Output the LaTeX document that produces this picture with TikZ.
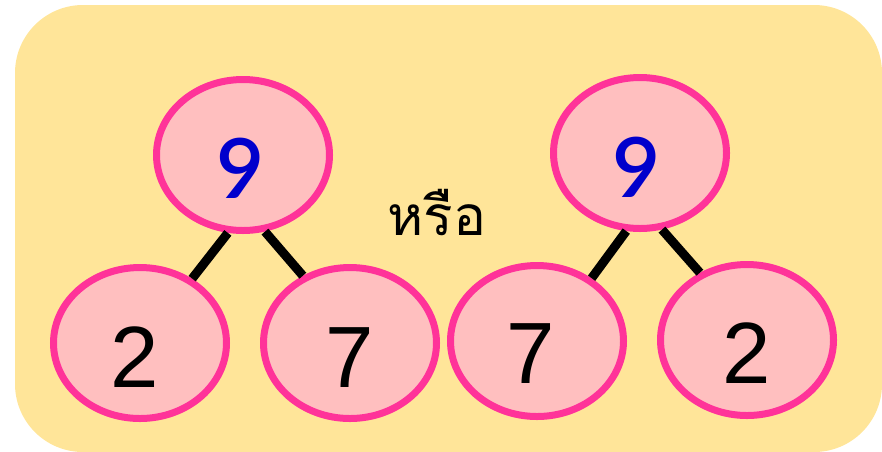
\documentclass[tikz,border=0pt]{standalone}
\usepackage{fontspec}
\usetikzlibrary{shapes.geometric}
\setmainfont{Liberation Sans}
\newfontfamily\thaifont[Script=Thai]{Loma}
\newfontfamily\ninefont{Lato Semibold}
\definecolor{bgyellow}{HTML}{FFE599}
\definecolor{ballfill}{HTML}{FFBFBF}
\definecolor{ballline}{HTML}{FF3399}
\definecolor{ninecol}{HTML}{0000CC}
\begin{document}
\begin{tikzpicture}[x=1pt,y=-1pt,
  ball/.style={ellipse, draw=ballline, fill=ballfill, line width=7pt,
    minimum width=173pt, minimum height=151pt, inner sep=0pt},
  link/.style={line width=9pt, black},
  digit/.style={font=\fontsize{87}{90}\selectfont, text=black, anchor=base, inner sep=0pt},
  thnine/.style={font=\ninefont\fontsize{83}{90}\selectfont, text=ninecol, anchor=base, inner sep=0pt}]
\useasboundingbox (0,0) rectangle (882,451);
\fill[bgyellow, rounded corners=68pt] (15,5) rectangle (882,452);
% links
\node[ball] (t1) at (243,155) {};
\node[ball] (a1) at (140,343) {};
\node[ball] (b1) at (350,343) {};
\node[ball] (t2) at (640,153) {};
\node[ball] (a2) at (537,341) {};
\node[ball] (b2) at (747,340) {};
\draw[link] (t1.-101) -- (a1.51);
\draw[link] (t1.-74.5) -- (b1.125);
\draw[link] (t2.-100.6) -- (a2.49.3);
\draw[link] (t2.-74.5) -- (b2.125.8);
% labels
\node[thnine] (n1) at (241,198) {9};
\node[digit] (d1) at (135,387) {2};
\node[digit] (d2) at (350,387) {7};
\node[thnine] (n2) at (637,197) {9};
\node[digit] (d3) at (531,383) {7};
\node[digit] (d4) at (747,383) {2};
% or
\node[font=\thaifont\fontsize{55}{60}\selectfont, anchor=base, inner sep=0pt] (or) at (437,235) {หรือ};
\end{tikzpicture}
\end{document}
